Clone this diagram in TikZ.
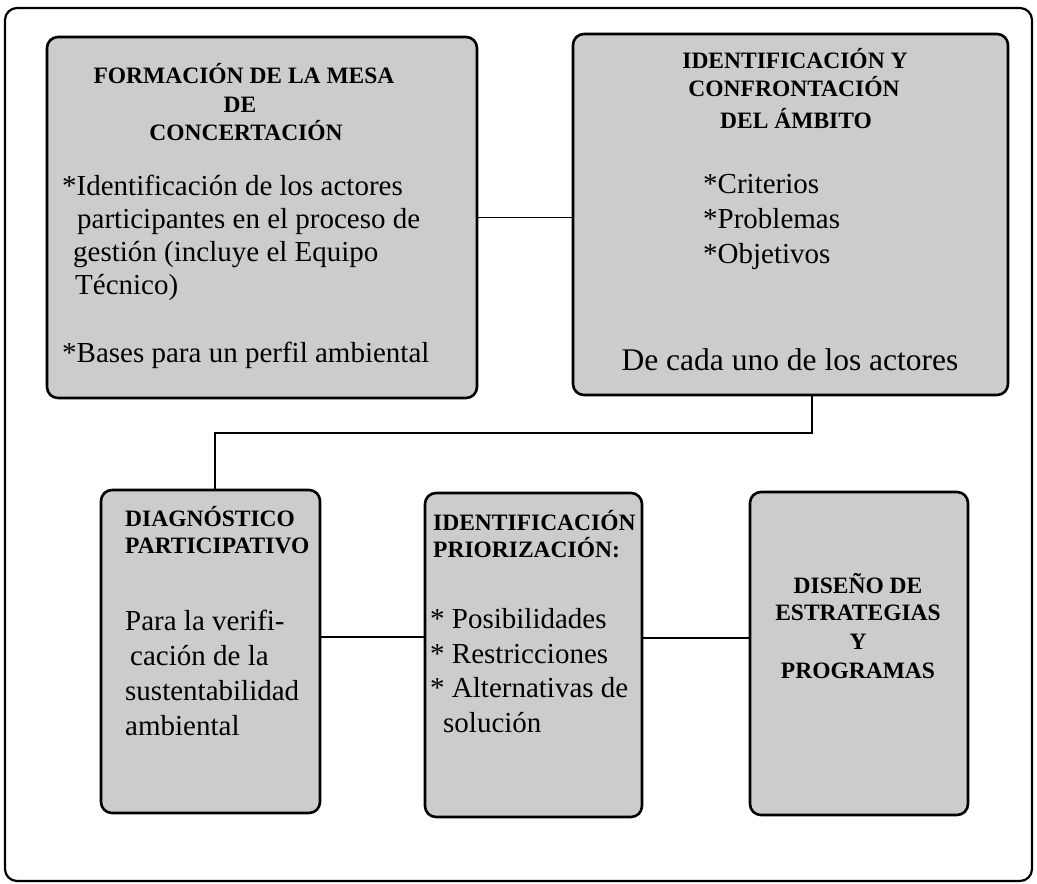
\documentclass[tikz,border=0pt]{standalone}
\usepackage{fontspec}
\setmainfont{Liberation Serif}
\begin{document}
\begin{tikzpicture}[x=1pt,y=-1pt,
  box/.style={draw=black, line width=2.6pt, fill=black!20, rounded corners=11pt, inner sep=0pt},
  ttl/.style={font=\bfseries\fontsize{23.5}{27}\selectfont, inner sep=0pt, anchor=base},
  ttlw/.style={font=\bfseries\fontsize{23.5}{27}\selectfont, inner sep=0pt, anchor=base west},
  bod/.style={font=\fontsize{29}{33}\selectfont, inner sep=0pt, anchor=base west},
  bodc/.style={font=\fontsize{31.5}{35}\selectfont, inner sep=0pt, anchor=base},
  conn/.style={draw=black, line width=1.8pt},
  frame/.style={draw=black, line width=2.2pt, rounded corners=12pt}]
\useasboundingbox (0,0) rectangle (1037,884);
\path[frame] (5,8) rectangle (1032,881);

% boxes
\node[box, minimum width=430pt, minimum height=361pt] (b1) at (262,217.5) {};
\node[box, minimum width=435pt, minimum height=361pt] (b2) at (790.5,214.5) {};
\node[box, minimum width=219pt, minimum height=323pt] (b3) at (210.5,651.5) {};
\node[box, minimum width=217pt, minimum height=324pt] (b4) at (533.5,655) {};
\node[box, minimum width=218pt, minimum height=323pt] (b5) at (859,653.5) {};

% connectors
\coordinate (j1) at (812,433);
\coordinate (j2) at (215,433);
\coordinate (r34) at (0,637);
\coordinate (r45) at (0,638);
\draw[conn] (b1.east) -- (b1.east -| b2.west);
\draw[conn] (b2.south -| j1) -- (j1) -- (j2) -- (j2 |- b3.north);
\draw[conn] (b3.east |- r34) -- (b4.west |- r34);
\draw[conn] (b4.east |- r45) -- (b5.west |- r45);

% box 1 text
\node[ttl] (t1a) at (244,83) {FORMACIÓN DE LA MESA};
\node[ttl] (t1b) at (240,112) {DE};
\node[ttl] (t1c) at (246,140) {CONCERTACIÓN};
\node[bod] (t1d) at (62,195) {*Identificación de los actores};
\node[bod] (t1e) at (77,228) {participantes en el proceso de};
\node[bod] (t1f) at (73,261) {gestión (incluye el Equipo};
\node[bod] (t1g) at (75,294) {Técnico)};
\node[bod] (t1h) at (62,362) {*Bases para un perfil ambiental};

% box 2 text
\node[ttl] (t2a) at (795,68) {IDENTIFICACIÓN Y};
\node[ttl] (t2b) at (794,96) {CONFRONTACIÓN};
\node[ttl] (t2c) at (796,128) {DEL ÁMBITO};
\node[bod] (t2d) at (703,193) {*Criterios};
\node[bod] (t2e) at (703,228) {*Problemas};
\node[bod] (t2f) at (703,263) {*Objetivos};
\node[bodc] (t2g) at (790,370) {De cada uno de los actores};

% box 3 text
\node[ttlw] (t3a) at (125,526) {DIAGNÓSTICO};
\node[ttlw] (t3b) at (125,553) {PARTICIPATIVO};
\node[bod] (t3c) at (125,630) {Para la verifi-};
\node[bod] (t3d) at (130,665) {cación de la};
\node[bod] (t3e) at (125,700) {sustentabilidad};
\node[bod] (t3f) at (125,735) {ambiental};

% box 4 text
\node[ttlw] (t4a) at (433,530) {IDENTIFICACIÓN};
\node[ttlw] (t4b) at (433,557) {PRIORIZACIÓN:};
\node[bod] (t4c) at (430,628) {* Posibilidades};
\node[bod] (t4d) at (430,663) {* Restricciones};
\node[bod] (t4e) at (430,697) {* Alternativas de};
\node[bod] (t4f) at (443,732) {solución};

% box 5 text
\node[ttl] (t5a) at (858,593) {DISEÑO DE};
\node[ttl] (t5b) at (858,620) {ESTRATEGIAS};
\node[ttl] (t5c) at (858,649) {Y};
\node[ttl] (t5d) at (858,678) {PROGRAMAS};
\end{tikzpicture}
\end{document}
